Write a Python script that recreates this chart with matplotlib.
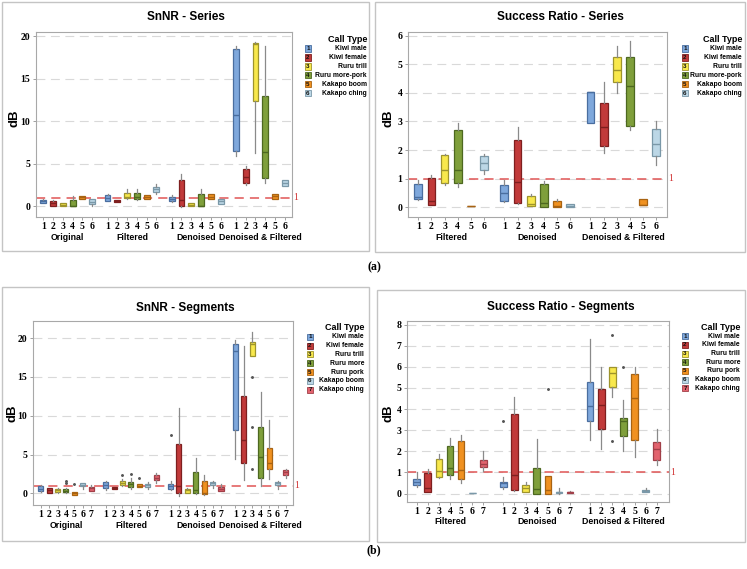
import matplotlib
matplotlib.use("Agg")
import matplotlib.pyplot as plt
from matplotlib.patches import Rectangle
from matplotlib.transforms import blended_transform_factory

# ---------------- data ----------------
series_types = ["Kiwi male", "Kiwi female", "Ruru trill", "Ruru more-pork", "Kakapo boom", "Kakapo ching"]
segment_types = ["Kiwi male", "Kiwi female", "Ruru trill", "Ruru more", "Ruru pork", "Kakapo boom", "Kakapo ching"]
groups_snnr = ["Original", "Filtered", "Denoised", "Denoised & Filtered"]
groups_ratio = ["Filtered", "Denoised", "Denoised & Filtered"]

# each row: [whisker low, Q1, median, Q3, whisker high]
snnr_series_original = [[0.35, 0.45, 0.6, 0.78, 0.9], [0.0, 0.05, 0.35, 0.65, 0.7], [0.0, 0.02, 0.2, 0.4, 0.45],
                        [0.0, 0.02, 0.1, 0.75, 1.2], [0.85, 0.88, 1.05, 1.2, 1.25], [0.1, 0.25, 0.5, 0.85, 0.9]]
snnr_series_filtered = [[0.6, 0.65, 1.0, 1.35, 1.4], [0.5, 0.52, 0.62, 0.75, 0.78], [0.85, 0.95, 1.15, 1.6, 2.05],
                        [0.8, 0.85, 1.05, 1.55, 2.05], [0.85, 0.88, 1.1, 1.33, 1.35], [1.4, 1.7, 2.0, 2.25, 2.6]]
snnr_series_denoised = [[0.55, 0.65, 0.9, 1.15, 1.3], [-0.1, 0.0, 0.8, 3.1, 3.8], [0.0, 0.02, 0.2, 0.4, 0.45],
                        [0.0, 0.0, 0.05, 1.4, 2.05], [0.85, 0.9, 1.15, 1.45, 1.5], [0.25, 0.3, 0.6, 0.85, 0.9]]
snnr_series_denfilt = [[5.9, 6.56, 10.8, 18.5, 18.8], [2.5, 2.8, 3.5, 4.4, 4.8], [6.3, 12.4, 19.1, 19.2, 19.3],
                       [2.8, 3.3, 6.4, 13.0, 18.8], [0.85, 0.9, 1.2, 1.45, 1.5], [2.45, 2.45, 2.75, 3.05, 3.05]]

ratio_series_filtered = [[0.24, 0.30, 0.36, 0.83, 0.95], [0.09, 0.09, 0.22, 1.03, 1.12], [0.78, 0.85, 1.32, 1.83, 1.85],
                         [0.70, 0.85, 1.32, 2.70, 2.93], [0.03, 0.03, 0.03, 0.04, 0.04], [1.15, 1.29, 1.55, 1.78, 1.86]]
ratio_series_denoised = [[0.18, 0.22, 0.5, 0.78, 0.97], [0.12, 0.14, 0.89, 2.34, 2.8], [0.03, 0.03, 0.12, 0.4, 0.46],
                         [0.0, 0.0, 0.15, 0.83, 0.93], [0.02, 0.02, 0.05, 0.23, 0.28], [0.01, 0.01, 0.05, 0.12, 0.12]]
ratio_series_denfilt = [[2.94, 2.94, 4.02, 4.03, 4.03], [1.9, 2.13, 2.82, 3.65, 4.38], [3.98, 4.38, 4.81, 5.26, 5.63],
                        [2.72, 2.84, 4.23, 5.26, 5.82], [0.07, 0.07, 0.08, 0.29, 0.29], [1.48, 1.8, 2.22, 2.74, 3.0]]

snnr_seg_original = [[0.2, 0.3, 0.6, 0.9, 1.1], [0.0, 0.05, 0.4, 0.65, 0.75], [0.1, 0.2, 0.4, 0.6, 0.7],
                     [0.0, 0.15, 0.35, 0.55, 0.7], [-0.2, -0.15, 0.05, 0.15, 0.2], [0.6, 0.9, 1.1, 1.3, 1.35],
                     [0.3, 0.35, 0.65, 0.85, 1.1]]
snnr_seg_original_out = [[], [], [], [1.3, 1.6], [1.2], [], []]
snnr_seg_filtered = [[0.4, 0.7, 1.1, 1.45, 1.6], [0.5, 0.55, 0.7, 0.82, 0.85], [0.9, 1.05, 1.35, 1.6, 1.8],
                     [0.6, 0.8, 1.2, 1.45, 2.0], [0.8, 0.87, 1.0, 1.15, 1.2], [0.6, 0.87, 1.1, 1.25, 1.4],
                     [1.3, 1.7, 2.0, 2.35, 2.6]]
snnr_seg_filtered_out = [[], [], [2.4], [2.5], [2.0], [], []]
snnr_seg_denoised = [[0.4, 0.5, 0.95, 1.2, 1.6], [-0.4, 0.0, 0.9, 6.35, 11.0], [0.0, 0.05, 0.4, 0.56, 0.7],
                     [-0.1, 0.0, 0.4, 2.8, 4.5], [-0.2, -0.1, 0.1, 1.65, 2.4], [0.7, 1.1, 1.3, 1.45, 1.55],
                     [0.3, 0.35, 0.6, 0.82, 1.2]]
snnr_seg_denoised_out = [[7.5], [], [], [], [], [], []]
snnr_seg_denfilt = [[4.4, 8.1, 18.4, 19.3, 19.8], [1.7, 3.86, 6.9, 12.6, 19.0], [17.7, 17.7, 19.2, 19.5, 20.8],
                    [0.9, 1.95, 4.64, 8.55, 13.0], [1.9, 3.2, 3.9, 5.8, 9.5], [0.6, 1.1, 1.3, 1.5, 1.55],
                    [2.0, 2.3, 2.7, 2.95, 3.2]]
snnr_seg_denfilt_out = [[], [], [15.0, 8.6, 3.1], [], [], [], []]

ratio_seg_filtered = [[0.3, 0.4, 0.55, 0.68, 1.0], [0.06, 0.06, 0.27, 0.95, 1.15], [0.75, 0.8, 1.06, 1.63, 1.85],
                      [0.7, 0.87, 1.22, 2.25, 2.65], [0.5, 0.71, 1.12, 2.47, 2.75], [0.02, 0.02, 0.03, 0.04, 0.04],
                      [1.05, 1.25, 1.42, 1.6, 2.0]]
ratio_seg_filtered_out = [[], [], [], [], [], [], []]
ratio_seg_denoised = [[0.2, 0.33, 0.48, 0.57, 0.8], [0.14, 0.16, 0.87, 3.75, 4.55], [0.08, 0.08, 0.24, 0.4, 0.55],
                      [0.0, 0.0, 0.2, 1.2, 2.57], [0.0, 0.0, 0.18, 0.82, 0.82], [0.0, 0.02, 0.05, 0.08, 0.28],
                      [0.03, 0.03, 0.06, 0.08, 0.12]]
ratio_seg_denoised_out = [[3.45], [], [], [], [4.95], [], []]
ratio_seg_denfilt = [[2.55, 3.43, 4.15, 5.28, 7.3], [2.1, 3.04, 4.19, 4.97, 6.0], [4.55, 5.03, 5.73, 6.01, 6.01],
                     [2.0, 2.74, 3.45, 3.6, 4.45], [1.75, 2.52, 4.54, 5.65, 6.0], [0.08, 0.08, 0.12, 0.17, 0.25],
                     [1.35, 1.58, 2.1, 2.44, 3.05]]
ratio_seg_denfilt_out = [[], [], [7.5, 2.5], [6.0], [], [], []]

threshold = 1

# ---------------- style ----------------
face_series = ["#7fa8dc", "#c13a3a", "#f8e84c", "#7f9f3b", "#f09120", "#bcd7e6"]
edge_series = ["#4a6e9f", "#7e1f1f", "#9e942c", "#4d6820", "#a86312", "#7a98a8"]
face_seg = face_series + ["#e2636e"]
edge_seg = edge_series + ["#a13f48"]

W, H = 747, 569
fig = plt.figure(figsize=(W / 100, H / 100), dpi=100)
SERIF = "Liberation Serif"
SANS = "Liberation Sans"


def fx(x):
    return x / W


def fy(y):
    return 1 - y / H


def frame(l, t, r, b):
    fig.patches.append(Rectangle((fx(l), fy(b)), (r - l) / W, (b - t) / H, transform=fig.transFigure,
                                 fill=False, edgecolor="#c4c4c4", lw=1.0))


def make_stats(rows, outs=None):
    res = []
    for i, r in enumerate(rows):
        res.append(dict(whislo=r[0], q1=r[1], med=r[2], q3=r[3], whishi=r[4],
                        fliers=(outs[i] if outs else [])))
    return res


def panel(frame_box, ax_box, title, grp_names, grp_rows, grp_outs, names, faces, edges,
          gstep, xlim, ylim, yticks, title_y, db_x, db_y, leg_top, leg_dy, leg_sq_x, leg_right,
          grp_label_y, one_x):
    frame(*frame_box)
    l, t, r, b = ax_box
    ax = fig.add_axes([fx(l), fy(b), (r - l) / W, (b - t) / H])
    n = len(names)
    positions, stats, cols = [], [], []
    for g, rows in enumerate(grp_rows):
        st = make_stats(rows, grp_outs[g] if grp_outs else None)
        for i in range(n):
            positions.append(g * gstep + i)
            stats.append(st[i])
            cols.append(i)
    bp = ax.bxp(stats, positions=positions, widths=0.6, patch_artist=True, showcaps=False,
                whiskerprops=dict(color="#8a8a8a", lw=0.9),
                boxprops=dict(lw=0.9), medianprops=dict(lw=1.0),
                flierprops=dict(marker=".", markersize=2.2, markerfacecolor="#555555",
                                markeredgecolor="#555555", linestyle="none"))
    for k, patch in enumerate(bp["boxes"]):
        patch.set_facecolor(faces[cols[k]])
        patch.set_edgecolor(edges[cols[k]])
        bp["medians"][k].set_color(edges[cols[k]])
    ax.set_xlim(*xlim)
    ax.set_ylim(*ylim)
    ax.set_yticks(yticks)
    ax.set_yticklabels([str(v) for v in yticks], fontfamily=SERIF, fontweight="bold", fontsize=7)
    ax.set_xticks(positions)
    ax.set_xticklabels([str(c + 1) for c in cols], fontfamily=SERIF, fontweight="bold", fontsize=7)
    ax.tick_params(axis="both", length=2.5, width=0.6, color="#909090", pad=1.5)
    ax.tick_params(axis="x", pad=0.8)
    for v in yticks:
        ax.axhline(v, color="#d9d9d9", lw=0.8, dashes=(8, 5), zorder=0)
    ax.axhline(threshold, color="#e05555", lw=1.1, dashes=(6, 4), zorder=1)
    for s in ax.spines.values():
        s.set_color("#a8a8a8")
        s.set_linewidth(0.8)
    tr = blended_transform_factory(ax.transData, fig.transFigure)
    for g, gname in enumerate(grp_names):
        xc = g * gstep + (n - 1) / 2
        ax.text(xc, fy(grp_label_y), gname, transform=tr, ha="center", va="center",
                fontfamily=SANS, fontweight="bold", fontsize=6.3)
    # threshold label
    yth = ax.transData.transform((0, threshold))[1]
    fig.text(fx(one_x), yth / fig.dpi / fig.get_size_inches()[1], "1", color="#d03030",
             fontfamily=SERIF, fontsize=7, ha="center", va="center")
    # title and y label
    fig.text(fx((frame_box[0] + frame_box[2]) / 2), fy(title_y), title, ha="center", va="center",
             fontfamily=SANS, fontweight="bold", fontsize=8.5)
    fig.text(fx(db_x), fy(db_y), "dB", rotation=90, ha="center", va="center",
             fontfamily=SANS, fontweight="bold", fontsize=9.5)
    # legend
    fig.text(fx(leg_right), fy(leg_top), "Call Type", ha="right", va="center",
             fontfamily=SANS, fontweight="bold", fontsize=6.5)
    for i, nm in enumerate(names):
        yy = leg_top + leg_dy * (i + 1) + 0.5
        fig.patches.append(Rectangle((fx(leg_sq_x), fy(yy + 3)), 6 / W, 6 / H, transform=fig.transFigure,
                                     facecolor=faces[i], edgecolor=edges[i], lw=0.6))
        fig.text(fx(leg_sq_x + 3), fy(yy), str(i + 1), ha="center", va="center",
                 fontfamily=SANS, fontweight="bold", fontsize=4.5, color="#111111")
        fig.text(fx(leg_right), fy(yy), nm, ha="right", va="center",
                 fontfamily=SANS, fontweight="bold", fontsize=4.9)
    return ax


panel((2, 2, 369, 251), (36, 32, 292, 217), "SnNR - Series", groups_snnr,
      [snnr_series_original, snnr_series_filtered, snnr_series_denoised, snnr_series_denfilt], None,
      series_types, face_series, edge_series, 6.57, (-0.75, 25.45), (-1.25, 20.5), [0, 5, 10, 15, 20],
      17, 15, 118, 39, 9.0, 305, 367, 237, 296)

panel((375, 2, 745, 252), (408, 32, 667, 217), "Success Ratio - Series", groups_ratio,
      [ratio_series_filtered, ratio_series_denoised, ratio_series_denfilt], None,
      series_types, face_series, edge_series, 6.57, (-0.79, 18.98), (-0.34, 6.13), [0, 1, 2, 3, 4, 5, 6],
      17, 389, 118, 39, 9.0, 682, 742, 237, 671)

panel((2, 287, 369, 541), (33, 321, 293, 505), "SnNR - Segments", groups_snnr,
      [snnr_seg_original, snnr_seg_filtered, snnr_seg_denoised, snnr_seg_denfilt],
      [snnr_seg_original_out, snnr_seg_filtered_out, snnr_seg_denoised_out, snnr_seg_denfilt_out],
      segment_types, face_seg, edge_seg, 7.72, (-0.92, 30.0), (-1.5, 22.2), [0, 5, 10, 15, 20],
      307.5, 13, 413, 327.5, 8.8, 307, 364, 525.5, 297)

panel((377, 290, 745, 542), (407, 321, 669, 502), "Success Ratio - Segments", groups_ratio,
      [ratio_seg_filtered, ratio_seg_denoised, ratio_seg_denfilt],
      [ratio_seg_filtered_out, ratio_seg_denoised_out, ratio_seg_denfilt_out],
      segment_types, face_seg, edge_seg, 7.8, (-0.87, 22.7), (-0.4, 8.17), [0, 1, 2, 3, 4, 5, 6, 7, 8],
      307, 389, 413, 327, 8.7, 682, 740, 522, 673)

fig.text(fx(374), fy(267), "(a)", ha="center", va="center", fontfamily=SERIF, fontweight="bold", fontsize=8.5)
fig.text(fx(374), fy(550), "(b)", ha="center", va="center", fontfamily=SERIF, fontweight="bold", fontsize=8.5)

fig.savefig("out.png", dpi=100, facecolor="white")
